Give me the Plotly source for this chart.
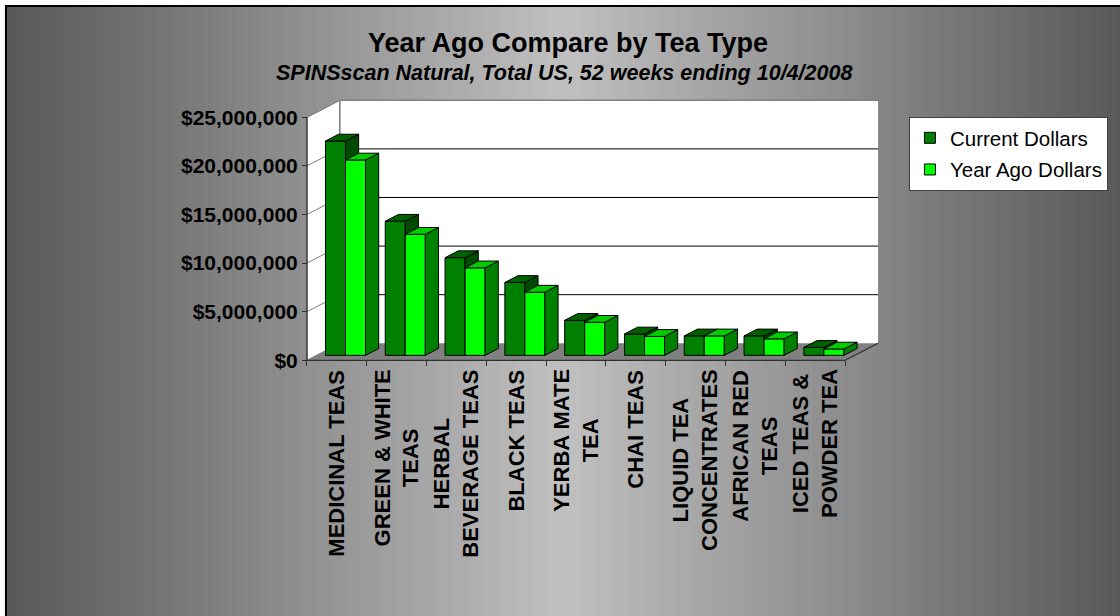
import plotly.graph_objects as go

# ---------------- data ----------------
categories = ["MEDICINAL TEAS", "GREEN & WHITE<br>TEAS", "HERBAL<br>BEVERAGE TEAS",
              "BLACK TEAS", "YERBA MATE<br>TEA", "CHAI TEAS",
              "LIQUID TEA<br>CONCENTRATES", "AFRICAN RED<br>TEAS", "ICED TEAS &<br>POWDER TEA"]
current_dollars = [22.05e6, 13.8e6, 10.05e6, 7.5e6, 3.6e6, 2.2e6, 2.0e6, 2.0e6, 0.82e6]
year_ago_dollars = [20.1e6, 12.45e6, 9.0e6, 6.5e6, 3.4e6, 1.95e6, 2.0e6, 1.7e6, 0.65e6]
series_names = ["Current Dollars", "Year Ago Dollars"]
y_tick_values = [0, 5e6, 10e6, 15e6, 20e6, 25e6]
y_tick_labels = ["$0", "$5,000,000", "$10,000,000", "$15,000,000", "$20,000,000", "$25,000,000"]
title_text = "Year Ago Compare by Tea Type"
subtitle_text = "SPINSscan Natural, Total US, 52 weeks ending 10/4/2008"

# ---------------- layout / style constants ----------------
W, H = 1120, 616
PLOT_L, PLOT_R, PLOT_T, PLOT_B = 292, 892, 93, 370
X_RANGE = [-0.25, 9.75]
Y_RANGE = [-1.0e6, 27.5e6]
N = len(categories)
YMAX = 25e6
DX = 0.55      # depth offset (category units)
DY = 1.75e6    # depth offset (value units)
F0, F1 = 0.29, 0.69
BAR_START, BAR_W = 0.15, 0.335
FONT = "Liberation Sans, Arial, sans-serif"

face_colors = [
    dict(front="#008000", side="#004a00", top="#006000"),
    dict(front="#00ff00", side="#008000", top="#00cc00"),
]


def px_x(px):
    return (px - PLOT_L) / (PLOT_R - PLOT_L)


def px_y(py):
    return (PLOT_B - py) / (PLOT_B - PLOT_T)


def poly_trace(polys, fill, line_color, line_width=1):
    xs, ys = [], []
    for p in polys:
        for (a, b) in p + [p[0]]:
            xs.append(a)
            ys.append(b)
        xs.append(None)
        ys.append(None)
    return go.Scatter(x=xs, y=ys, mode="lines", fill="toself", fillcolor=fill,
                      line=dict(color=line_color, width=line_width),
                      hoverinfo="skip", showlegend=False)


def seg_trace(segs, color, width=1):
    xs, ys = [], []
    for (a, b) in segs:
        xs += [a[0], b[0], None]
        ys += [a[1], b[1], None]
    return go.Scatter(x=xs, y=ys, mode="lines", line=dict(color=color, width=width),
                      hoverinfo="skip", showlegend=False)


fig = go.Figure()

# floor, side wall, back wall
fig.add_trace(poly_trace([[(0, 0), (N, 0), (N + DX, DY), (DX, DY)]], "#808080", "#808080"))
fig.add_trace(poly_trace([[(0, 0), (DX, DY), (DX, YMAX + DY), (0, YMAX)]], "#ffffff", "#808080"))
fig.add_trace(poly_trace([[(DX, DY), (N + DX, DY), (N + DX, YMAX + DY), (DX, YMAX + DY)]],
                         "#ffffff", "rgba(0,0,0,0)"))
# gridlines
back_grid = [((DX, v + DY), (N + DX, v + DY)) for v in y_tick_values[1:-1]]
fig.add_trace(seg_trace(back_grid, "#000000", 1))
side_grid = [((0, v), (DX, v + DY)) for v in y_tick_values[1:]]
fig.add_trace(seg_trace(side_grid, "#808080", 1))
# wall edges
fig.add_trace(seg_trace([((DX, DY), (DX, YMAX + DY)), ((DX, YMAX + DY), (N + DX, YMAX + DY))],
                        "#808080", 1.5))
# front axis lines
fig.add_trace(seg_trace([((0, 0), (0, YMAX)), ((0, 0), (N, 0)), ((N, 0), (N + DX, DY))],
                        "#303030", 1.3))

# bars
for k, vals in enumerate([current_dollars, year_ago_dollars]):
    fronts, sides, tops = [], [], []
    dxd, dyd = (F1 - F0) * DX, (F1 - F0) * DY
    for i, v in enumerate(vals):
        x0 = i + BAR_START + k * BAR_W + F0 * DX
        y0 = F0 * DY
        x1 = x0 + BAR_W
        fronts.append([(x0, y0), (x1, y0), (x1, y0 + v), (x0, y0 + v)])
        sides.append([(x1, y0), (x1 + dxd, y0 + dyd), (x1 + dxd, y0 + v + dyd), (x1, y0 + v)])
        tops.append([(x0, y0 + v), (x1, y0 + v), (x1 + dxd, y0 + v + dyd), (x0 + dxd, y0 + v + dyd)])
    c = face_colors[k]
    fig.add_trace(poly_trace(fronts, c["front"], "#000000"))
    fig.add_trace(poly_trace(sides, c["side"], "#000000"))
    fig.add_trace(poly_trace(tops, c["top"], "#000000"))

# legend entries
for k, name in enumerate(series_names):
    fig.add_trace(go.Scatter(x=[None], y=[None], mode="markers", name=name,
                             legendgroup=name,
                             marker=dict(symbol="square", size=11, color=face_colors[k]["front"],
                                         line=dict(color="#000000", width=1))))

# category labels
annotations = []
for i, lab in enumerate(categories):
    annotations.append(dict(x=i + 0.5, y=0, xref="x", yref="y", text=lab, showarrow=False,
                            textangle=-90, align="center", xanchor="center", yanchor="top",
                            yshift=-7, font=dict(family=FONT, size=22, color="#000000", weight="bold")))
annotations.append(dict(x=px_x(565), y=px_y(73), xref="paper", yref="paper", text=subtitle_text,
                        showarrow=False, xanchor="center", yanchor="middle",
                        font=dict(family=FONT, size=21.5, color="#000000", weight="bold", style="italic")))

# background gradient (vertical strips) and frame
shapes = []
left_px, right_px, centre_px = 5, 1130, 565
step = 8
xpx = left_px
while xpx < right_px:
    mid = xpx + step / 2
    t = abs(mid - centre_px) / (centre_px - left_px)
    t = min(t, 1.0)
    g = int(round(192 - (192 - 88) * t))
    col = f"rgb({g},{g},{g})"
    shapes.append(dict(type="rect", xref="paper", yref="paper",
                       x0=px_x(xpx), x1=px_x(xpx + step + 0.6), y0=px_y(640), y1=px_y(6),
                       fillcolor=col, line=dict(width=0), layer="below"))
    xpx += step
shapes.append(dict(type="rect", xref="paper", yref="paper", x0=px_x(5), x1=px_x(1135),
                   y0=px_y(640), y1=px_y(6), fillcolor="rgba(0,0,0,0)",
                   line=dict(color="#000000", width=2), layer="below"))

fig.update_layout(
    width=W, height=H,
    margin=dict(l=PLOT_L, r=W - PLOT_R, t=PLOT_T, b=H - PLOT_B, pad=0),
    paper_bgcolor="#ffffff", plot_bgcolor="rgba(0,0,0,0)",
    title=dict(text=title_text, x=568 / W, y=1 - 43 / H, xref="container", yref="container",
               xanchor="center", yanchor="middle",
               font=dict(family=FONT, size=27, color="#000000", weight="bold")),
    xaxis=dict(range=X_RANGE, anchor="free",
               position=(0 - Y_RANGE[0]) / (Y_RANGE[1] - Y_RANGE[0]),
               showgrid=False, zeroline=False, showline=False,
               tickvals=list(range(N + 1)), ticks="outside", ticklen=5, tickcolor="#303030",
               showticklabels=False, fixedrange=True),
    yaxis=dict(range=Y_RANGE, anchor="free",
               position=(0 - X_RANGE[0]) / (X_RANGE[1] - X_RANGE[0]),
               showgrid=False, zeroline=False, showline=False,
               tickvals=y_tick_values, ticktext=y_tick_labels, ticks="outside", ticklen=5,
               tickcolor="#303030",
               tickfont=dict(family=FONT, size=21, color="#000000", weight="bold"),
               fixedrange=True),
    legend=dict(x=px_x(911), y=px_y(117), xanchor="left", yanchor="top",
                bgcolor="#ffffff", bordercolor="#404040", borderwidth=1,
                traceorder="grouped", tracegroupgap=2,
                font=dict(family=FONT, size=20.5, color="#000000")),
    showlegend=True,
    annotations=annotations,
    shapes=shapes,
)

fig.write_html("out.html")
